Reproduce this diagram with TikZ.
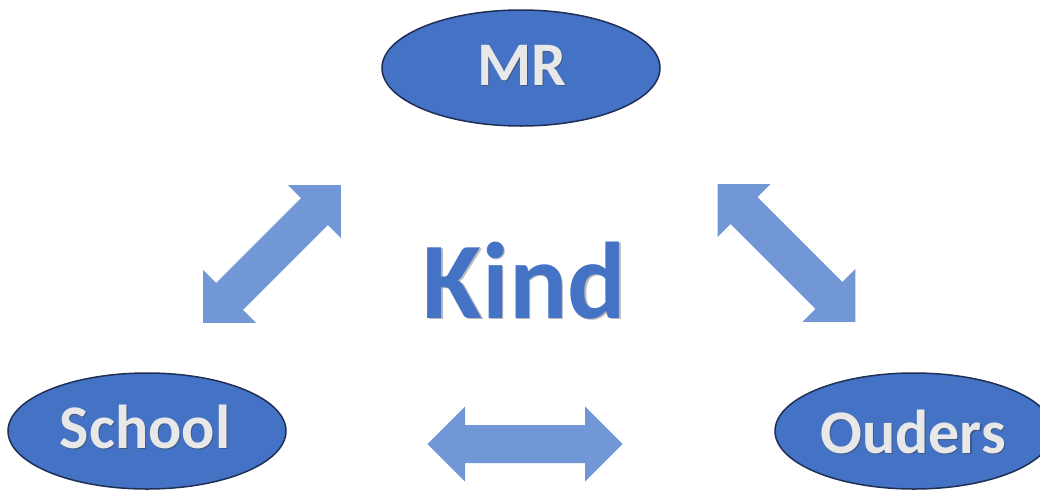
\documentclass[tikz,border=0pt]{standalone}
\usepackage{fontspec}
\setmainfont{Carlito}
\usetikzlibrary{shapes.geometric}
\definecolor{ellblue}{HTML}{4472C4}
\definecolor{ellline}{HTML}{1F2F55}
\definecolor{arrblue}{HTML}{7297D6}
\definecolor{txtgray}{HTML}{E8E8E8}
\definecolor{shade}{HTML}{3A3A3A}
\tikzset{
  bubble/.style={ellipse, draw=ellline, line width=1.5pt, fill=ellblue,
    minimum width=278pt, minimum height=116pt, inner sep=0pt},
  bubbletext/.style={anchor=base, inner sep=0pt, text=txtgray,
    font=\bfseries\fontsize{62}{62}\selectfont},
  bubbleshadow/.style={bubbletext, text=shade, opacity=0.45},
  kindtext/.style={anchor=base, inner sep=0pt, text=ellblue,
    font=\bfseries\fontsize{109}{109}\selectfont},
  kindshadow/.style={kindtext, text=shade, opacity=0.35},
  dblarrow/.pic={
    \fill[arrblue] (-97.5,0) -- (-60,37.5) -- (-60,19) -- (60,19) -- (60,37.5)
      -- (97.5,0) -- (60,-37.5) -- (60,-19) -- (-60,-19) -- (-60,-37.5) -- cycle;
  }
}
\begin{document}
\begin{tikzpicture}[x=1pt,y=-1pt]
\useasboundingbox (0,0) rectangle (1040,490);
\clip (0,0) rectangle (1040,490);
% ellipses
\node[bubble] (mr) at (521,68) {};
\node[bubble] (school) at (147,431) {};
\node[bubble] (ouders) at (914,431) {};
% labels with shadow
\node[bubbleshadow] (mrS) at ([shift={(1.2,1.2)}]522,85) {MR};
\node[bubbletext] (mrT) at (522,85) {MR};
\node[bubbleshadow] (schoolS) at ([shift={(1.2,1.2)}]145,448) {School};
\node[bubbletext] (schoolT) at (145,448) {School};
\node[bubbleshadow] (oudersS) at ([shift={(1.2,1.2)}]913,453) {Ouders};
\node[bubbletext] (oudersT) at (913,453) {Ouders};
% Kind
\node[kindshadow] (kindS) at ([shift={(1.5,1.5)}]524.5,318) {Kind};
\node[kindtext] (kind) at (524.5,318) {Kind};
% arrows
\pic[rotate=45] (arrL) at (272,254) {dblarrow};
\pic[rotate=-45] (arrR) at (786.5,253) {dblarrow};
\pic (arrB) at (525,444) {dblarrow};
\end{tikzpicture}
\end{document}
